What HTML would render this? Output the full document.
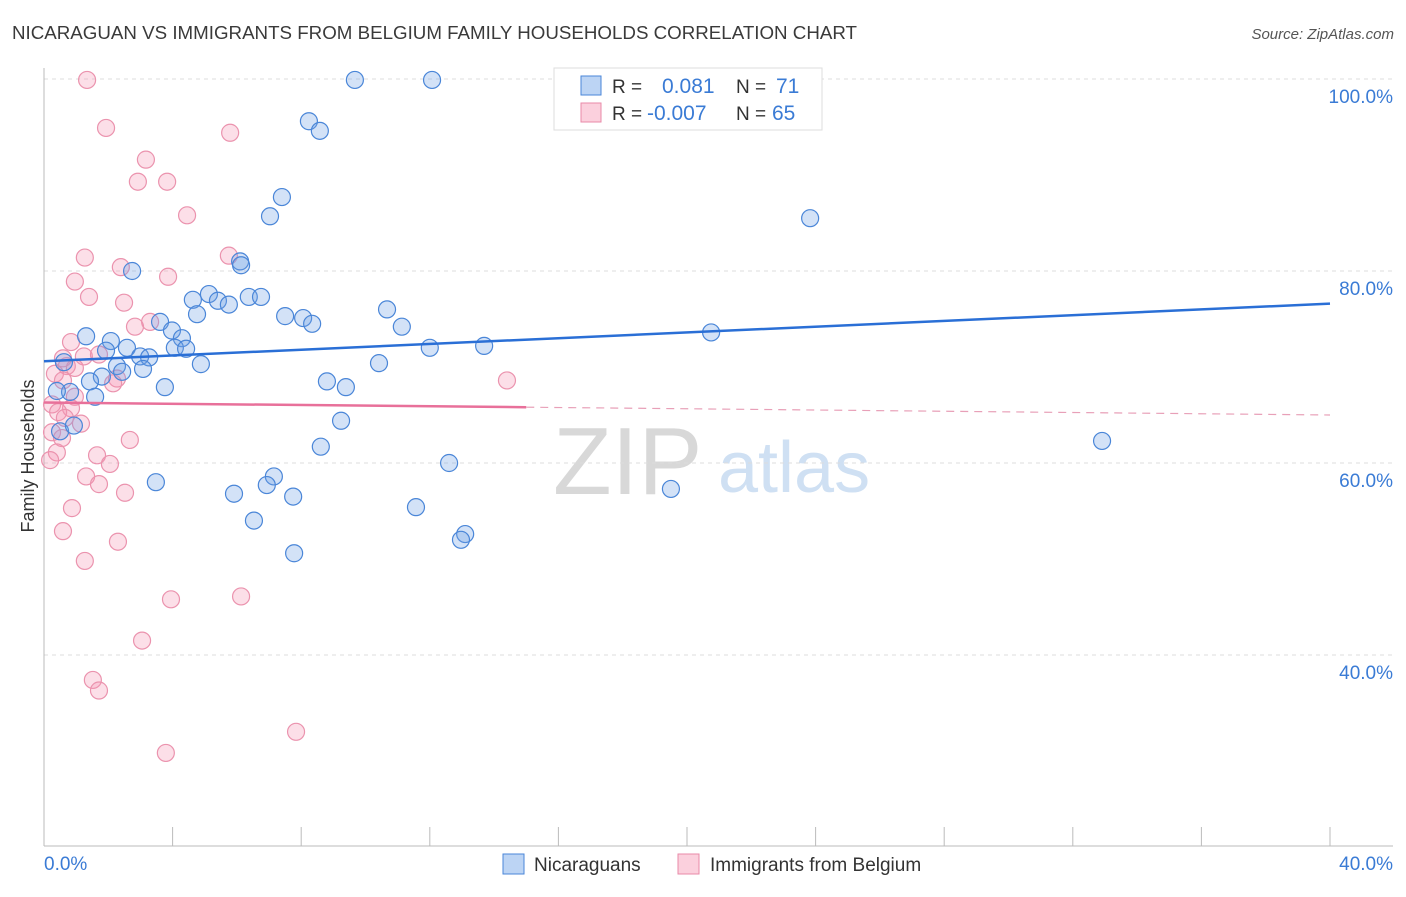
<!DOCTYPE html>
<html><head><meta charset="utf-8"><style>
body{margin:0;background:#fff;font-family:"Liberation Sans",sans-serif}
svg text{font-family:"Liberation Sans",sans-serif}
</style></head><body>
<svg id="chart" width="1406" height="892" xmlns="http://www.w3.org/2000/svg">
<text x="12" y="39" font-size="18" fill="#3a3a3a" textLength="845" lengthAdjust="spacingAndGlyphs">NICARAGUAN VS IMMIGRANTS FROM BELGIUM FAMILY HOUSEHOLDS CORRELATION CHART</text>
<text x="1394" y="39" font-size="15" fill="#555" text-anchor="end" font-style="italic">Source: ZipAtlas.com</text>
<text transform="translate(34,456) rotate(-90)" font-size="18" fill="#333" text-anchor="middle">Family Households</text>
<g>
<text x="553" y="494" font-size="96" fill="#d8d8d8" font-family="Liberation Serif,serif">ZIP</text>
<text x="718" y="492" font-size="72" fill="#cfe0f3">atlas</text>
</g>
<g id="grid"></g><g id="axes"></g><g id="marks"></g>
<g>
<rect x="554" y="68" width="268" height="62" fill="#fff" stroke="#ddd"/>
<rect x="581" y="76" width="20" height="19" fill="#bcd4f4" stroke="#4a86d8"/>
<rect x="581" y="103" width="20" height="19" fill="#fbd0dd" stroke="#e88aa8"/>
<text x="612" y="93" font-size="19" fill="#333">R =</text><text x="662" y="93" font-size="21" fill="#3a7bd5">0.081</text>
<text x="736" y="93" font-size="19" fill="#333">N =</text><text x="776" y="93" font-size="21" fill="#3a7bd5">71</text>
<text x="612" y="120" font-size="19" fill="#333">R =</text><text x="647" y="120" font-size="21" fill="#3a7bd5">-0.007</text>
<text x="736" y="120" font-size="19" fill="#333">N =</text><text x="772" y="120" font-size="21" fill="#3a7bd5">65</text>
</g>
<g>
<rect x="503" y="854" width="21" height="20" fill="#bcd4f4" stroke="#4a86d8"/>
<text x="534" y="871" font-size="19" fill="#333">Nicaraguans</text>
<rect x="678" y="854" width="21" height="20" fill="#fbd0dd" stroke="#e88aa8"/>
<text x="710" y="871" font-size="19" fill="#333">Immigrants from Belgium</text>
</g>
</svg>
<script>
const yTicks=[40,60,80,100];
const yTickLabels=["40.0%","60.0%","80.0%","100.0%"];
const xTicks=[0,4,8,12,16,20,24,28,32,36,40];
const xTickLabels=["0.0%","40.0%"];
const blueX=[9.67,12.07,8.24,8.58,7.4,7.03,23.83,6.1,6.13,2.74,5.13,4.63,5.41,5.75,6.37,6.75,4.76,7.5,8.06,8.34,10.67,11.13,3.61,3.98,4.29,1.31,2.08,1.93,2.58,4.07,4.42,12.0,13.69,20.75,2.99,3.27,10.42,0.62,2.27,3.08,4.88,2.43,1.8,1.43,8.8,9.39,3.76,0.81,0.4,1.59,9.24,0.5,0.93,8.61,32.91,12.6,3.48,7.15,6.93,7.75,5.91,19.5,11.57,6.53,13.1,12.97,7.78,21.84];
const blueY=[99.9,99.9,95.6,94.6,87.7,85.7,85.5,81.0,80.6,80.0,77.6,77.0,76.9,76.5,77.3,77.3,75.5,75.3,75.1,74.5,76.0,74.2,74.7,73.8,73.0,73.2,72.7,71.7,72.0,72.0,71.9,72.0,72.2,73.6,71.1,71.0,70.4,70.5,70.1,69.8,70.3,69.5,69.0,68.5,68.5,67.9,67.9,67.4,67.5,66.9,64.4,63.3,63.9,61.7,62.3,60.0,58.0,58.6,57.7,56.5,56.8,57.3,55.4,54.0,52.6,52.0,50.6,99.9];
const pinkX=[1.34,1.93,5.79,3.17,2.92,3.83,4.45,5.75,1.27,2.39,3.86,0.96,1.4,2.49,3.3,2.83,0.84,1.24,1.71,0.71,0.96,0.34,0.59,2.27,2.15,14.4,0.96,0.25,0.84,0.44,0.65,1.15,0.25,0.56,2.67,0.4,1.65,0.19,2.05,1.31,1.71,2.52,0.87,0.59,2.3,1.27,3.95,6.13,3.05,1.52,1.71,7.84,3.79,0.59];
const pinkY=[99.9,94.9,94.4,91.6,89.3,89.3,85.8,81.6,81.4,80.4,79.4,78.9,77.3,76.7,74.7,74.2,72.6,71.1,71.3,70.1,69.9,69.3,68.6,68.8,68.3,68.6,66.9,66.1,65.7,65.3,64.7,64.1,63.2,62.6,62.4,61.1,60.8,60.3,59.9,58.6,57.8,56.9,55.3,52.9,51.8,49.8,45.8,46.1,41.5,37.4,36.3,32.0,29.8,70.9];
const blueTrend=[70.6,76.6];
const pinkTrend=[66.3,65.0];
const pinkSolidEnd=15;
const NS="http://www.w3.org/2000/svg";
const X=v=>44+v*32.15, Y=v=>79+(100-v)*9.6;
function mk(p,t,a){const e=document.createElementNS(NS,t);for(const k in a)e.setAttribute(k,a[k]);p.appendChild(e);return e;}
const grid=document.getElementById('grid'),axes=document.getElementById('axes'),marks=document.getElementById('marks');
yTicks.forEach((t,i)=>{
 const l=mk(grid,'line',{x1:44,x2:1393,y1:Y(t),y2:Y(t),stroke:'#ddd','stroke-dasharray':'4,4'});
 
 
 const tx=mk(axes,'text',{x:1393,y:Y(t)+24,'font-size':19,fill:'#3a7bd5','text-anchor':'end'});tx.textContent=yTickLabels[i];
 
 
});
const ax=mk(axes,'line',{x1:44,x2:1393,y1:846,y2:846,stroke:'#bbb'});


const ay=mk(axes,'line',{x1:44,x2:44,y1:68,y2:846,stroke:'#bbb'});


xTicks.forEach(t=>{const l=mk(axes,'line',{x1:X(t),x2:X(t),y1:827,y2:846,stroke:'#bbb'});
 
 });
const xl0=mk(axes,'text',{x:44,y:870,'font-size':19,fill:'#3a7bd5'});xl0.textContent=xTickLabels[0];


const xl1=mk(axes,'text',{x:1393,y:870,'font-size':19,fill:'#3a7bd5','text-anchor':'end'});xl1.textContent=xTickLabels[1];


pinkX.forEach((v,i)=>{const c=mk(marks,'circle',{cx:X(v),cy:Y(pinkY[i]),r:8.5,fill:'rgba(244,150,180,0.3)',stroke:'#eb93ae','stroke-width':1.2});
 
 });
blueX.forEach((v,i)=>{const c=mk(marks,'circle',{cx:X(v),cy:Y(blueY[i]),r:8.5,fill:'rgba(110,160,230,0.3)',stroke:'#4a86d8','stroke-width':1.2});
 
 });
const bt=mk(marks,'line',{x1:X(0),y1:Y(blueTrend[0]),x2:X(40),y2:Y(blueTrend[1]),stroke:'#2a6fd6','stroke-width':2.5});


const pm=pinkTrend[0]+(pinkTrend[1]-pinkTrend[0])*pinkSolidEnd/40;
const pt=mk(marks,'line',{x1:X(0),y1:Y(pinkTrend[0]),x2:X(pinkSolidEnd),y2:Y(pm),stroke:'#e8709a','stroke-width':2.5});


const pd=mk(marks,'line',{x1:X(pinkSolidEnd),y1:Y(pm),x2:X(40),y2:Y(pinkTrend[1]),stroke:'#e8a0b8','stroke-width':1.2,'stroke-dasharray':'8,6'});


</script>
</body></html>
